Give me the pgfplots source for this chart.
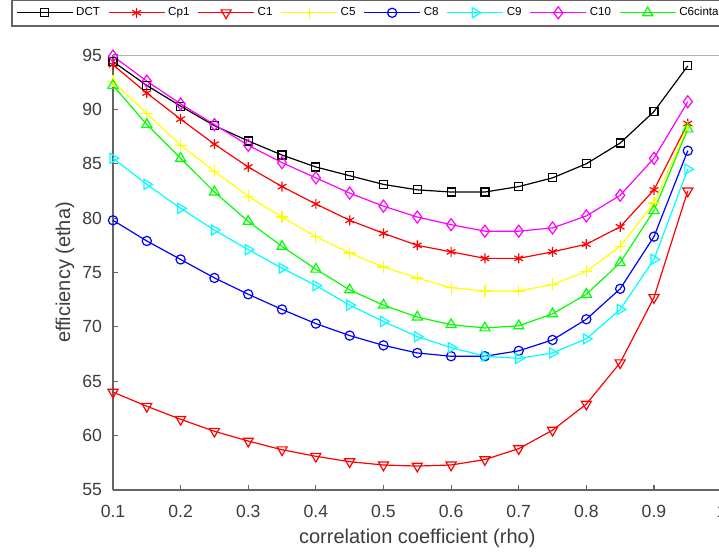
\documentclass[border=0pt]{standalone}
\usepackage{fontspec}
\setmainfont{Liberation Sans}
\usepackage{pgfplots}
\pgfplotsset{compat=1.18}
\definecolor{axgray}{RGB}{100,100,100}
\definecolor{txtgray}{RGB}{60,60,60}
\definecolor{cR}{RGB}{255,0,0}
\definecolor{cY}{RGB}{255,255,0}
\definecolor{cB}{RGB}{0,0,255}
\definecolor{cC}{RGB}{0,255,255}
\definecolor{cM}{RGB}{255,0,255}
\definecolor{cG}{RGB}{0,255,0}
\begin{document}
\begin{tikzpicture}
\useasboundingbox (0,0) rectangle (359.5pt,276.5pt);
\begin{axis}[
  at={(56.5pt,31.5pt)}, anchor=south west,
  scale only axis, width=304.3pt, height=217.5pt,
  xmin=0.1, xmax=1, ymin=55, ymax=95,
  xtick={0.1,0.2,...,1.0}, ytick={55,60,...,95},
  xticklabels={0.1,0.2,0.3,0.4,0.5,0.6,0.7,0.8,0.9,1},
  axis x line*=bottom, axis y line*=left,
  axis line style={axgray, line width=1pt},
  tick align=inside, major tick length=2.5pt,
  tick style={axgray, line width=0.6pt},
  /pgf/number format/assume math mode=true,
  ticklabel style={font=\fontsize{8.8}{10}\selectfont, text=txtgray},
  yticklabel style={xshift=-2pt},
  xticklabel style={yshift=-4pt},
  xlabel={correlation coefficient (rho)},
  ylabel={efficiency (etha)},
  label style={font=\fontsize{10}{12}\selectfont, text=txtgray},
  xlabel style={at={(axis description cs:0.5,-0.110)}, anchor=center},
  ylabel style={at={(axis description cs:-0.079,0.5)}, anchor=center},
  every axis plot/.append style={line width=0.6pt, mark options={solid, line width=0.6pt}},
  legend columns=8,
  legend style={at={(axis description cs:-0.1676,1.129)}, anchor=north west,
    draw=axgray, line width=1pt, fill=white,
    font=\fontsize{5.8}{6.5}\selectfont,
    inner ysep=2.6pt, inner xsep=2pt,
    nodes={inner xsep=1.5pt, inner ysep=1pt},
    /tikz/every even column/.append style={column sep=2.5pt}},
  legend image code/.code={\draw[#1,mark=none] (0pt,0pt) -- (28pt,0pt); \draw[#1] plot coordinates {(14pt,0pt)};},
  clip=false,
]
\draw[gray!60, line width=0.5pt] (rel axis cs:0,1) -- (rel axis cs:1,1);
\addplot[black, mark=square, mark size=2pt] coordinates {
(0.10,94.4) (0.15,92.2) (0.20,90.3) (0.25,88.5) (0.30,87.1) (0.35,85.8) (0.40,84.7) (0.45,83.9) (0.50,83.1)
(0.55,82.6) (0.60,82.4) (0.65,82.4) (0.70,82.9) (0.75,83.7) (0.80,85.0) (0.85,86.9) (0.90,89.8) (0.95,94.0)};
\addlegendentry{DCT}
\addplot[cR, mark=asterisk, mark size=2.5pt] coordinates {
(0.10,94.1) (0.15,91.5) (0.20,89.1) (0.25,86.8) (0.30,84.7) (0.35,82.9) (0.40,81.3) (0.45,79.8) (0.50,78.6)
(0.55,77.5) (0.60,76.9) (0.65,76.3) (0.70,76.3) (0.75,76.9) (0.80,77.6) (0.85,79.2) (0.90,82.6) (0.95,88.7)};
\addlegendentry{Cp1}
\addplot[cR, mark=triangle, mark size=2.9pt, mark options={rotate=180}] coordinates {
(0.10,64.0) (0.15,62.7) (0.20,61.5) (0.25,60.4) (0.30,59.5) (0.35,58.7) (0.40,58.1) (0.45,57.6) (0.50,57.3)
(0.55,57.2) (0.60,57.3) (0.65,57.8) (0.70,58.8) (0.75,60.5) (0.80,62.9) (0.85,66.7) (0.90,72.7) (0.95,82.5)};
\addlegendentry{C1}
\addplot[cY, mark=+, mark size=3pt] coordinates {
(0.10,92.6) (0.15,89.6) (0.20,86.7) (0.25,84.3) (0.30,82.0) (0.35,80.1) (0.40,78.3) (0.45,76.8) (0.50,75.5)
(0.55,74.5) (0.60,73.6) (0.65,73.3) (0.70,73.3) (0.75,73.9) (0.80,75.1) (0.85,77.4) (0.90,81.4) (0.95,88.4)};
\addlegendentry{C5}
\addplot[cB, mark=o, mark size=2.3pt] coordinates {
(0.10,79.8) (0.15,77.9) (0.20,76.2) (0.25,74.5) (0.30,73.0) (0.35,71.6) (0.40,70.3) (0.45,69.2) (0.50,68.3)
(0.55,67.6) (0.60,67.3) (0.65,67.3) (0.70,67.8) (0.75,68.8) (0.80,70.7) (0.85,73.5) (0.90,78.3) (0.95,86.2)};
\addlegendentry{C8}
\addplot[cC, mark=triangle, mark size=2.9pt, mark options={rotate=-90}] coordinates {
(0.10,85.5) (0.15,83.1) (0.20,80.9) (0.25,78.9) (0.30,77.1) (0.35,75.4) (0.40,73.8) (0.45,72.0) (0.50,70.5)
(0.55,69.1) (0.60,68.1) (0.65,67.3) (0.70,67.1) (0.75,67.6) (0.80,68.9) (0.85,71.6) (0.90,76.2) (0.95,84.5)};
\addlegendentry{C9}
\addplot[cM, mark=diamond, mark size=3pt] coordinates {
(0.10,94.9) (0.15,92.6) (0.20,90.5) (0.25,88.6) (0.30,86.7) (0.35,85.1) (0.40,83.7) (0.45,82.3) (0.50,81.1)
(0.55,80.1) (0.60,79.4) (0.65,78.8) (0.70,78.8) (0.75,79.1) (0.80,80.2) (0.85,82.1) (0.90,85.5) (0.95,90.7)};
\addlegendentry{C10}
\addplot[cG, mark=triangle, mark size=2.9pt] coordinates {
(0.10,92.2) (0.15,88.6) (0.20,85.5) (0.25,82.4) (0.30,79.7) (0.35,77.4) (0.40,75.3) (0.45,73.4) (0.50,72.0)
(0.55,70.9) (0.60,70.2) (0.65,69.9) (0.70,70.1) (0.75,71.2) (0.80,73.0) (0.85,75.9) (0.90,80.7) (0.95,88.2)};
\addlegendentry{C6cinta}
\end{axis}
\end{tikzpicture}
\end{document}
